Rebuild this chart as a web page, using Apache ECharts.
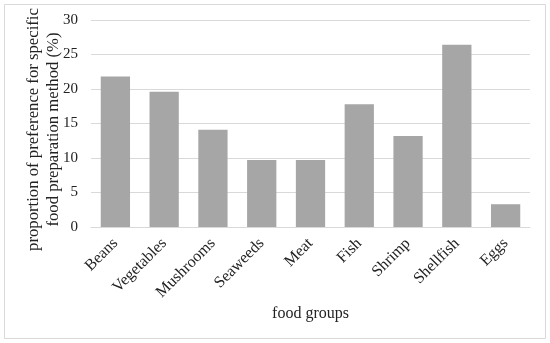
<!DOCTYPE html>
<html><head><meta charset="utf-8">
<script src="https://cdn.jsdelivr.net/npm/echarts@6/dist/echarts.min.js"></script>
<style>html,body{margin:0;padding:0;background:#fff}#c{width:550px;height:343px}</style>
</head><body><div id="c"></div>
<script>
const categories = ['Beans','Vegetables','Mushrooms','Seaweeds','Meat','Fish','Shrimp','Shellfish','Eggs'];
const values = [21.8, 19.6, 14.1, 9.7, 9.7, 17.8, 13.2, 26.4, 3.3];
const yTicks = [0, 5, 10, 15, 20, 25, 30];
const font = 'Liberation Serif';
const chart = echarts.init(document.getElementById('c'));
chart.setOption({
  animation: false,
  textStyle: {fontFamily: font},
  graphic: [{type:'rect', shape:{x:4.5,y:4.5,width:541,height:334}, style:{fill:'none', stroke:'#d9d9d9', lineWidth:1}}],
  grid: {left: 91, right: 20, top: 20, bottom: 116, outerBoundsMode: 'none', containLabel: false},
  xAxis: {
    type: 'category', data: categories,
    name: 'food groups', nameLocation: 'middle', nameGap: 79, nameMoveOverlap: false,
    nameTextStyle: {fontSize: 16, color: '#222', fontFamily: font},
    axisLine: {lineStyle: {color: '#d9d9d9'}},
    axisTick: {show: false},
    axisLabel: {rotate: 45, fontSize: 16, color: '#222', fontFamily: font, margin: 14, interval: 0}
  },
  yAxis: {
    type: 'value', min: yTicks[0], max: yTicks[yTicks.length-1], interval: 5,
    name: 'proportion of preference for specific\nfood preparation method (%)',
    nameLocation: 'middle', nameGap: 27, nameMoveOverlap: false,
    nameTextStyle: {fontSize: 16.7, color: '#222', fontFamily: font, lineHeight: 20, padding: [0, 12, 0, 0]},
    axisLine: {show: false}, axisTick: {show: false},
    axisLabel: {fontSize: 15, color: '#222', fontFamily: font, margin: 13},
    splitLine: {lineStyle: {color: '#d9d9d9'}}
  },
  series: [{type: 'bar', data: values, barCategoryGap: '40%', itemStyle: {color: '#a6a6a6'}}]
});
</script></body></html>
